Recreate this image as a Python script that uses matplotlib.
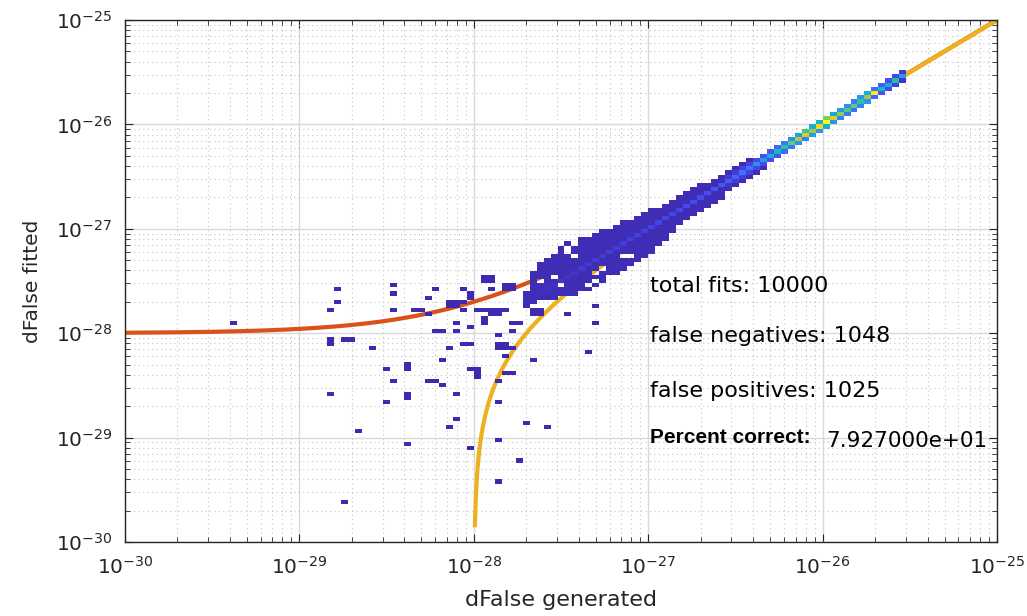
import numpy as np
import matplotlib
matplotlib.use("Agg")
import matplotlib.pyplot as plt
from matplotlib.colors import LinearSegmentedColormap
from matplotlib.ticker import NullFormatter, FixedLocator

# --- data (log10 exponents) ---
bins_per_decade = 25
exp_lo, exp_hi = -30, -25

# scattered single-count cells: log10(generated), log10(fitted)
out_x = [-29.39, -28.84, -28.80, -28.84, -28.84, -28.76, -28.72, -28.567, -28.448, -28.333,
         -28.295, -28.255, -28.218, -28.178, -28.13, -28.09, -28.098, -28.098, -28.056, -28.021,
         -28.06, -28.02, -27.94, -27.94, -27.98, -27.94, -27.90, -27.86, -27.82, -27.89,
         -27.85, -27.79, -27.75, -27.79, -27.864, -27.72, -27.67, -27.63, -27.67, -27.63,
         -27.85, -27.81, -27.85, -27.81, -27.77, -27.83, -27.67, -27.81, -27.77, -27.864,
         -27.87, -27.87, -27.87, -27.71, -27.60, -27.75, -28.02, -28.37, -28.644, -28.726,
         -28.84, -28.487, -28.37, -28.37, -28.45, -28.37, -28.37, -28.487, -28.255, -28.215,
         -28.176, -28.176, -28.136, -28.098, -28.098, -28.136, -28.04, -28.00, -28.00, -28.00,
         -28.764, -28.448, -28.448, -28.257, -28.215, -28.16, -28.12, -28.08, -28.06, -28.027,
         -28.027, -27.95, -27.91, -27.95, -27.91, -27.90, -27.84, -27.80, -27.84, -27.80,
         -27.517, -27.443, -27.368, -27.471, -27.282, -27.282, -27.356, -26.971]
out_y = [-27.885, -27.76, -27.72, -28.055, -28.093, -28.048, -28.048, -28.131, -27.80, -27.80,
         -27.76, -27.818, -27.962, -27.962, -27.74, -27.74, -27.888, -27.968, -27.80, -27.923,
         -28.09, -28.09, -27.88, -27.92, -27.76, -27.76, -27.76, -27.76, -27.76, -27.84,
         -27.84, -27.885, -27.885, -27.968, -28.01, -27.73, -27.80, -27.80, -27.84, -27.84,
         -28.10, -28.10, -28.14, -28.14, -28.15, -28.22, -28.26, -28.38, -28.38, -28.463,
         -28.67, -29.04, -29.416, -28.88, -28.92, -29.21, -29.12, -29.08, -28.96, -29.617,
         -28.588, -28.34, -28.30, -28.34, -28.46, -28.58, -28.62, -28.668, -28.46, -28.46,
         -28.505, -28.26, -28.13, -28.588, -28.834, -28.918, -28.33, -28.33, -28.37, -28.41,
         -27.594, -27.552, -27.633, -27.674, -27.594, -27.715, -27.715, -27.715, -27.594, -27.62,
         -27.66, -27.48, -27.48, -27.52, -27.52, -27.594, -27.55, -27.55, -27.59, -27.59,
         -27.175, -27.128, -27.099, -27.837, -27.751, -27.885, -28.17, -27.175]

# dense band along the diagonal: column bin index, extent below/above diagonal (bins)
band_cols = list(range(57, 112))
band_lo = [0, -1, -1, -2, -3, -4, -4, -5, -5, -6, -6, -6, -6, -6, -6, -6, -6, -6,
           -6, -5, -5, -4, -3, -3, -3, -3, -3, -3, -3, -2, -2, -2, -2, -2, -2, -1, -1,
           -1, -1, -1, -1, -1, -1, -1, -1, -1, -1, -1, -1, -1, -1, -1, -1, -1, -1]
band_hi = [2, 6, 7, 7, 7, 7, 7, 7, 6, 6, 6, 6, 5, 5, 5, 4, 4, 4,
           4, 3, 3, 3, 3, 3, 3, 3, 2, 2, 2, 2, 2, 2, 2, 1, 1, 1, 1,
           1, 1, 1, 1, 1, 1, 1, 1, 1, 1, 1, 1, 1, 1, 1, 1, 1, 1]
band_center = [2, 3, 3, 4, 4, 5, 5, 5, 6, 6, 6, 6, 7, 7, 7, 7, 8, 8, 8,
               9, 9, 9, 10, 10, 11, 11, 12, 13, 14, 15, 17, 20, 22, 28, 32, 40, 48,
               55, 65, 78, 85, 75, 90, 100, 85, 72, 62, 66, 55, 75, 95, 45, 38, 52, 32]
band_fill = 2
# empty cells inside the band: column, offset from diagonal
hole_col = [59, 60, 61, 62, 62, 64, 66, 67, 67, 68, 69, 71, 72, 63, 63, 64]
hole_off = [3, 0, 2, -1, -4, 4, -5, -3, -5, -3, -6, -3, -4, 6, 7, 7]
# neighbours of the diagonal for columns 86..111
nb_start = 86
nb_up = [6, 7, 8, 9, 10, 12, 15, 18, 22, 28, 35, 60, 40, 45, 70, 38, 30, 28, 25, 30, 40, 20, 15, 12, 10, 6]
nb_dn = [5, 6, 7, 8, 9, 10, 12, 14, 18, 22, 30, 25, 35, 30, 40, 30, 25, 22, 20, 25, 30, 18, 14, 10, 8, 5]

noise_floor = 1e-28

tot_fits = 10000
false_neg = 1048
false_pos = 1025
pct_correct = 79.27

# --- build the 2d histogram ---
nb = (exp_hi - exp_lo) * bins_per_decade
edges = np.linspace(exp_lo, exp_hi, nb + 1)
H, _, _ = np.histogram2d(out_x, out_y, bins=[edges, edges])
for k, i in enumerate(band_cols):
    for off in range(band_lo[k], band_hi[k] + 1):
        H[i, i + off] = max(H[i, i + off], band_fill)
for c, o in zip(hole_col, hole_off):
    H[c, c + o] = 0
for k, i in enumerate(band_cols):
    H[i, i] = band_center[k]
for k in range(len(nb_up)):
    i = nb_start + k
    H[i, i + 1] = nb_up[k]
    H[i, i - 1] = nb_dn[k]
Hm = np.ma.masked_equal(H.T, 0)

parula = LinearSegmentedColormap.from_list("parula", [
    (0.2422, 0.1504, 0.6603), (0.2803, 0.2782, 0.9221), (0.2440, 0.4358, 0.9988),
    (0.1540, 0.5902, 0.9218), (0.0805, 0.6870, 0.8168), (0.0900, 0.7450, 0.6900),
    (0.2586, 0.7812, 0.5321), (0.5044, 0.7993, 0.3480), (0.8000, 0.7500, 0.2200),
    (0.9892, 0.8136, 0.1885), (0.9769, 0.9839, 0.0805)])

fig = plt.figure(figsize=(10.27, 6.16), dpi=100)
ax = fig.add_axes([125 / 1027, 1 - 542 / 616, 872 / 1027, 522 / 616])
ax.set_xscale("log")
ax.set_yscale("log")

xs = np.logspace(exp_lo, exp_hi, 801)
ax.plot(xs, xs + noise_floor, color="#D95319", lw=3, zorder=1.5)
sel = xs > noise_floor
ax.plot(xs[sel], xs[sel] - noise_floor, color="#EDB120", lw=3, zorder=1.6)

ax.pcolormesh(10.0 ** edges, 10.0 ** edges, Hm, cmap=parula, vmin=0, vmax=max(band_center),
              zorder=2)

ax.set_xlim(10.0 ** exp_lo, 10.0 ** exp_hi)
ax.set_ylim(10.0 ** exp_lo, 10.0 ** exp_hi)
decades = 10.0 ** np.arange(exp_lo, exp_hi + 1)
ax.xaxis.set_major_locator(FixedLocator(decades))
ax.yaxis.set_major_locator(FixedLocator(decades))
ax.xaxis.set_minor_formatter(NullFormatter())
ax.yaxis.set_minor_formatter(NullFormatter())
ax.set_axisbelow(True)
ax.grid(which="major", color="#d9d9d9", lw=1, ls="-")
ax.grid(which="minor", color="#c4c4c4", lw=0.8, ls=(0, (1, 3)))
for s in ax.spines.values():
    s.set_color("#262626")
    s.set_linewidth(1)
ax.tick_params(which="both", direction="in", top=True, right=True, colors="#262626")
ax.tick_params(which="major", length=6, labelsize=14.5, labelcolor="#262626")
ax.tick_params(which="minor", length=3.5)
ax.tick_params(axis="x", pad=10)
ax.tick_params(axis="y", pad=9)

ax.set_xlabel("dFalse generated", fontsize=16, color="#262626", labelpad=9)
ax.set_ylabel("dFalse fitted", fontsize=14.5, color="#262626", labelpad=10)

W, Hp = 1027, 616
fig.text(650 / W, 1 - 292 / Hp, f"total fits: {tot_fits}", fontsize=16, va="baseline")
fig.text(650 / W, 1 - 342 / Hp, f"false negatives: {false_neg}", fontsize=16, va="baseline")
fig.text(650 / W, 1 - 397 / Hp, f"false positives: {false_pos}", fontsize=16, va="baseline")
fig.text(650 / W, 1 - 443 / Hp, "Percent correct:", fontsize=15, fontweight="bold",
         family="Liberation Sans", va="baseline")
fig.text(826 / W, 1 - 447 / Hp, f"{pct_correct:e}", fontsize=15.5, va="baseline")

fig.savefig("out.png", dpi=100)
